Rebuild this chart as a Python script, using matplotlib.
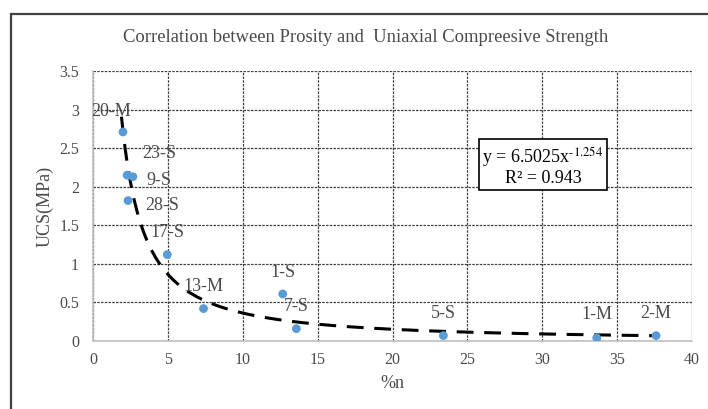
import numpy as np
import matplotlib
matplotlib.use('Agg')
import matplotlib.pyplot as plt
from matplotlib.patches import Rectangle

# sample porosity (%n) vs UCS (MPa)
labels = ['20-M', '23-S', '9-S', '28-S', '17-S', '13-M', '1-S', '7-S', '5-S', '1-M', '2-M']
porosity = [2.0, 2.28, 2.66, 2.34, 4.96, 7.38, 12.67, 13.58, 23.4, 33.64, 37.6]
ucs = [2.71, 2.15, 2.13, 1.82, 1.12, 0.42, 0.61, 0.16, 0.07, 0.04, 0.07]
# label offsets in pixels (dx, dy) relative to each point
label_dx = [-12, 32, 26, 34, 0, 0, 0, 0, 0, 0, 0]
label_dy = [20, 22, -4, -5, 22, 22, 21, 22, 22, 23, 22]

# power trendline shown on the chart
COEF_A = 6.5025
COEF_B = -1.254

SERIF = 'Liberation Serif'
GREY = '#4a4a4a'

fig = plt.figure(figsize=(7.08, 4.09), dpi=100)
ax = fig.add_axes([93 / 708, 1 - 341 / 409, 599 / 708, 270 / 409])

# chart-area frame (cropped on the right and bottom in the reference)
fig.patches.append(Rectangle((11 / 708, -0.1), 1.2, 1 - 14 / 409 + 0.1,
                             transform=fig.transFigure, fill=False,
                             edgecolor='#404040', linewidth=1.6))

xt = np.linspace(min(porosity) - 0.1, max(porosity), 300)
ax.plot(xt, COEF_A * xt ** COEF_B, color='black', linewidth=2.2,
        linestyle=(0, (5.5, 3.5)), zorder=3)
ax.scatter(porosity, ucs, s=40, color='#5B9BD5', zorder=4, edgecolors='none')

for lab, x, y, dx, dy in zip(labels, porosity, ucs, label_dx, label_dy):
    ax.annotate(lab, (x, y), xytext=(dx, dy), textcoords='offset pixels',
                ha='center', va='center', fontsize=13, family=SERIF,
                color=GREY, zorder=5)

ax.set_xlim(0, 40)
ax.set_ylim(0, 3.5)
ax.set_xticks(np.arange(0, 41, 5))
ax.set_yticks(np.arange(0, 3.6, 0.5))
ax.set_yticklabels(['0', '0.5', '1', '1.5', '2', '2.5', '3', '3.5'])
ax.tick_params(length=0, labelsize=11.5, colors=GREY)
ax.tick_params(axis='x', pad=8)
ax.tick_params(axis='y', pad=10)
for t in ax.get_xticklabels() + ax.get_yticklabels():
    t.set_family(SERIF)

ax.grid(True, color='#404040', linestyle=(0, (2, 1)), linewidth=0.9)
ax.set_axisbelow(True)
for side in ['top', 'right']:
    ax.spines[side].set_visible(False)
for side in ['left', 'bottom']:
    ax.spines[side].set_color('#BFBFBF')
    ax.spines[side].set_linewidth(1.2)

ax.set_xlabel('%n', fontsize=13, family=SERIF, color=GREY, labelpad=5)
ax.set_ylabel('UCS(MPa)', fontsize=13, family=SERIF, color=GREY, labelpad=4)

fig.text(366 / 708, 1 - 38 / 409,
         'Correlation between Prosity and  Uniaxial Compreesive Strength',
         ha='center', va='center', fontsize=13.4, family=SERIF, color=GREY)

ax.text((543 - 93) / 599, (341 - 166) / 270,
        'y = 6.5025x$^{\\text{-}1.254}$\nR² = 0.943', transform=ax.transAxes,
        ha='center', va='center', fontsize=13, family=SERIF,
        math_fontfamily='stix', linespacing=1.05,
        bbox=dict(boxstyle='square,pad=0.2', facecolor='white',
                  edgecolor='black', linewidth=1.2), zorder=6)

fig.savefig('out.png', dpi=100)
